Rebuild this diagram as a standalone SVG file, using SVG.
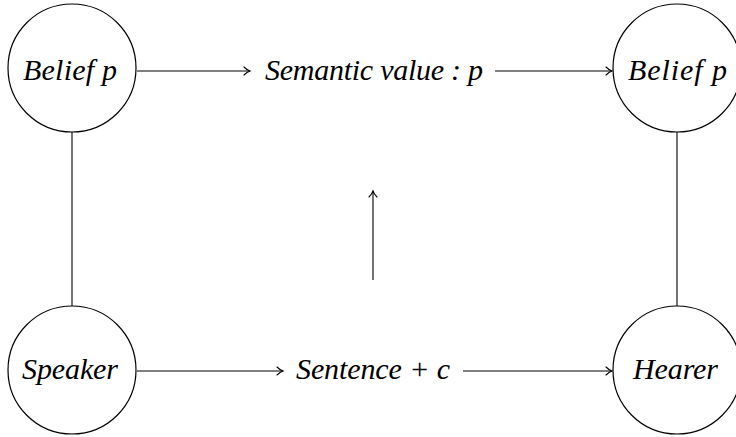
<svg xmlns="http://www.w3.org/2000/svg" width="736" height="437" viewBox="0 0 736 437">
<style>
  .node circle { fill: #fff; stroke: #000; stroke-width: 1.2; }
  text { font-family: "Liberation Serif", serif; font-style: italic; font-size: 30px; fill: #000; }
  .conn line { stroke: #000; stroke-width: 1.1; fill: none; }
  .arr { marker-end: url(#to); }
</style>
<defs>
  <marker id="to" viewBox="-8 -5 10 10" refX="0" refY="0" markerWidth="10" markerHeight="10" markerUnits="userSpaceOnUse" orient="auto" overflow="visible">
    <path d="M-6,-4 Q-3,-1 0,0 Q-3,1 -6,4" fill="none" stroke="#000" stroke-width="1.1" stroke-linecap="round"/>
  </marker>
</defs>
<g class="conn">
  <line x1="72" y1="132" x2="72" y2="306"/>
  <line x1="677" y1="132" x2="677" y2="306"/>
  <line class="arr" x1="137" y1="71" x2="250" y2="71"/>
  <line class="arr" x1="495" y1="71" x2="612" y2="71"/>
  <line class="arr" x1="137" y1="371" x2="283" y2="371"/>
  <line class="arr" x1="463" y1="371" x2="612" y2="371"/>
  <line class="arr" x1="373" y1="280" x2="373" y2="191"/>
</g>
<g id="belief-speaker" class="node">
  <circle cx="72" cy="68" r="64"/>
  <text x="23" y="80" textLength="94" lengthAdjust="spacing">Belief p</text>
</g>
<g id="belief-hearer" class="node">
  <circle cx="677" cy="68" r="64"/>
  <text x="628" y="80" textLength="99" lengthAdjust="spacing">Belief p</text>
</g>
<g id="speaker" class="node">
  <circle cx="72" cy="370" r="64"/>
  <text x="22" y="379" textLength="96" lengthAdjust="spacing">Speaker</text>
</g>
<g id="hearer" class="node">
  <circle cx="677" cy="370" r="64"/>
  <text x="633" y="379" textLength="85" lengthAdjust="spacing">Hearer</text>
</g>
<g id="semantic-value">
  <text x="265" y="80" textLength="218" lengthAdjust="spacing">Semantic value : p</text>
</g>
<g id="sentence">
  <text x="296" y="379" textLength="154" lengthAdjust="spacing">Sentence + c</text>
</g>
</svg>
